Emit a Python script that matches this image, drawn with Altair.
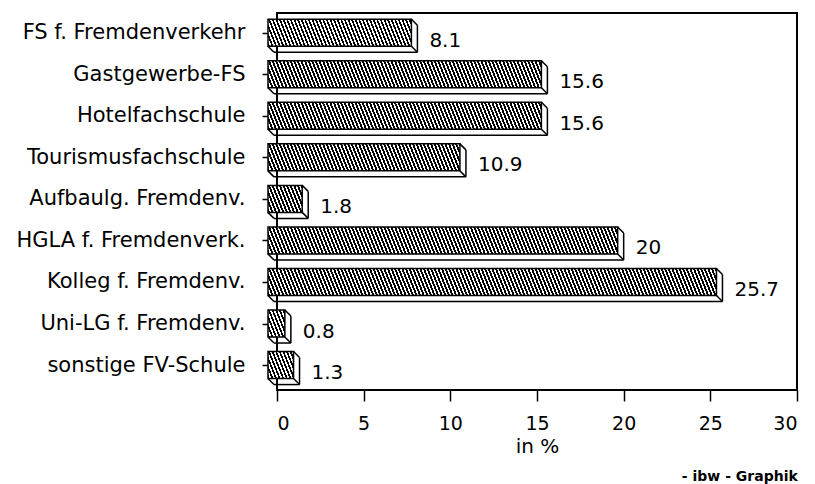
import json
import altair as alt
import pandas as pd

categories = ["FS f. Fremdenverkehr", "Gastgewerbe-FS", "Hotelfachschule",
              "Tourismusfachschule", "Aufbaulg. Fremdenv.", "HGLA f. Fremdenverk.",
              "Kolleg f. Fremdenv.", "Uni-LG f. Fremdenv.", "sonstige FV-Schule"]
values = [8.1, 15.6, 15.6, 10.9, 1.8, 20, 25.7, 0.8, 1.3]
x_ticks = [0, 5, 10, 15, 20, 25, 30]

W, H = 520, 377
XMAX = 30
PX = W / XMAX
FONT = "DejaVu Sans"
D = 6      # depth of the 3D extrusion
HH = 13.5  # half height of bar face

df = pd.DataFrame({
    "idx": list(range(len(categories))),
    "cat": categories,
    "value": values,
    "zero": [0] * len(values),
    "label": [f"{v:g}" for v in values],
})

def hatch(w, h, p=3.6, b=1.9, a=0.4):
    # stripes along lines x - a*y = const (leaning "\")
    L = w + a * h
    c = L / (w * w + a * a * h * h)
    stops = []
    k = 0
    while k * p < L:
        s = round(k * p / L, 5)
        m = round(min((k * p + b) / L, 1), 5)
        e = round(min((k + 1) * p / L, 1), 5)
        stops += [{"offset": s, "color": "black"}, {"offset": m, "color": "black"},
                  {"offset": m, "color": "white"}, {"offset": e, "color": "white"}]
        k += 1
    return {"gradient": "linear", "x1": 0, "y1": 1, "x2": c * w, "y2": 1 - c * a * h, "stops": stops}

label_expr = json.dumps(categories) + "[datum.value]"

xs = alt.Scale(domain=[0, XMAX], nice=False, zero=False)
ys = alt.Scale(domain=[-0.475, 8.6], reverse=True, nice=False, zero=False)

base = alt.Chart(df)

X0 = alt.X("zero:Q", scale=xs,
           axis=alt.Axis(values=x_ticks, title="in %", tickSize=11, tickWidth=1.5,
                         tickColor="black", labelFontSize=19, labelFont=FONT,
                         labelColor="black", labelPadding=13, domain=False, grid=False,
                         titleFont=FONT, titleFontSize=20, titleFontWeight="normal",
                         titleColor="black", titlePadding=3))
Y0 = alt.Y("idx:Q", scale=ys,
           axis=alt.Axis(values=list(range(len(categories))), labelExpr=label_expr,
                         title=None, tickSize=15, tickWidth=1.5, tickColor="black",
                         labelFontSize=21, labelFont=FONT, labelColor="black",
                         labelPadding=17, labelLimit=400, domain=False, grid=False))

def rule(xa, xb, **offs):
    return base.mark_rule(color="black", strokeWidth=1.5, **offs).encode(
        x=alt.X(xa, scale=xs), x2=alt.X2(xb), y=alt.Y("idx:Q", scale=ys), y2=alt.Y2("idx"))

layers = []
# extrusion edges
layers.append(rule("value:Q", "value", xOffset=-D, x2Offset=0, yOffset=-HH, y2Offset=-HH + D))
layers.append(rule("value:Q", "value", xOffset=0, x2Offset=0, yOffset=-HH + D, y2Offset=HH + D))
layers.append(rule("value:Q", "value", xOffset=-D, x2Offset=0, yOffset=HH, y2Offset=HH + D))
layers.append(rule("zero:Q", "value", xOffset=-3, x2Offset=0, yOffset=HH + D, y2Offset=HH + D))
layers.append(rule("zero:Q", "zero", xOffset=-9, x2Offset=-3, yOffset=HH, y2Offset=HH + D))

# hatched front faces
for i, v in enumerate(values):
    w = PX * v + 3
    face = base.transform_filter(alt.datum.idx == i).mark_rect(
        fill=hatch(w, 2 * HH), stroke="black", strokeWidth=1.5,
        xOffset=-9, x2Offset=-D, yOffset=-HH, y2Offset=HH,
    ).encode(x=X0, x2=alt.X2("value"), y=Y0, y2=alt.Y2("idx"))
    layers.append(face)

text = base.mark_text(align="left", baseline="middle", dx=12, dy=8,
                      fontSize=20, font=FONT, color="black").encode(
    x=alt.X("value:Q", scale=xs), y=alt.Y("idx:Q", scale=ys), text="label:N")
layers.append(text)

chart = alt.layer(*layers).properties(
    width=W, height=H,
    autosize=alt.AutoSizeParams(type="none"),
    padding={"left": 269, "top": 5, "right": 10, "bottom": 94},
    title=alt.TitleParams("- ibw - Graphik", orient="bottom", anchor="end",
                          fontSize=14, font=FONT, fontWeight="bold", color="black", offset=14),
).configure(background="white").configure_view(stroke="black", strokeWidth=2)

chart.save("out.html", embed_options={"renderer": "svg", "actions": False})
